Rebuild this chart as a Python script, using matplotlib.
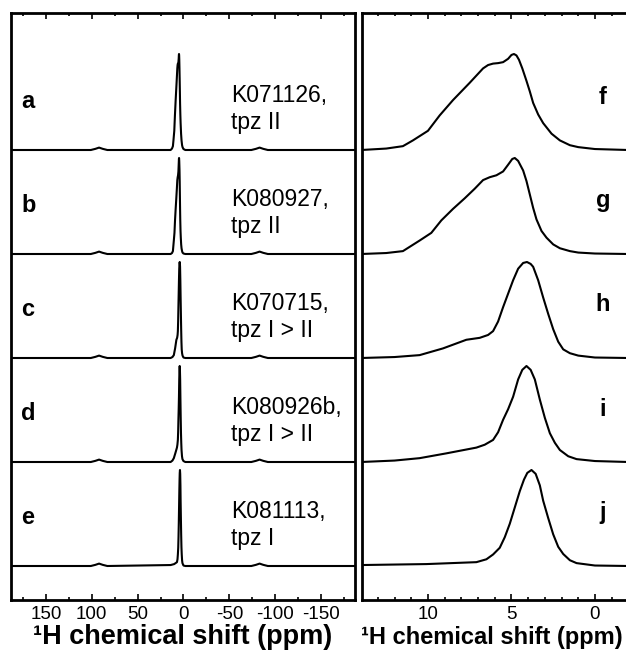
import matplotlib.pyplot as plt
from matplotlib.ticker import MultipleLocator
from matplotlib.transforms import blended_transform_factory

plt.rcParams["font.family"] = ["Liberation Sans", "DejaVu Sans"]
plt.rcParams["axes.unicode_minus"] = False

# panel letters and sample names (left panel: full range, right panel: zoom)
left_letters = ["a", "b", "c", "d", "e"]
right_letters = ["f", "g", "h", "i", "j"]
sample_names = ["K071126,\ntpz II", "K080927,\ntpz II", "K070715,\ntpz I > II",
                "K080926b,\ntpz I > II", "K081113,\ntpz I"]

# central region (ppm, normalised intensity)
ppm_1 = [14.0, 12.5, 11.5, 10.9, 10.0, 9.3, 8.5, 7.5, 6.7, 6.4, 6.1, 5.8, 5.5, 5.2, 5.0,
         4.85, 4.7, 4.55, 4.35, 4.1, 3.9, 3.7, 3.4, 3.1, 2.6, 2.1, 1.5, 1.0, 0.0, -1.0, -2.0]
int_1 = [0.0, 0.015, 0.04, 0.10, 0.20, 0.36, 0.52, 0.70, 0.85, 0.885, 0.90, 0.905, 0.915, 0.95, 0.99,
         1.0, 0.985, 0.94, 0.85, 0.72, 0.61, 0.49, 0.37, 0.28, 0.17, 0.10, 0.05, 0.03, 0.01, 0.005, 0.0]

ppm_2 = [14.0, 12.5, 11.5, 10.5, 9.8, 9.2, 8.5, 7.8, 7.2, 6.7, 6.3, 5.9, 5.5, 5.2, 4.95,
         4.8, 4.6, 4.3, 4.1, 3.9, 3.7, 3.5, 3.2, 2.9, 2.5, 2.1, 1.5, 1.0, 0.0, -2.0]
int_2 = [0.0, 0.01, 0.03, 0.14, 0.22, 0.35, 0.47, 0.58, 0.68, 0.77, 0.80, 0.82, 0.86, 0.93, 0.99,
         1.0, 0.97, 0.87, 0.76, 0.62, 0.48, 0.36, 0.24, 0.17, 0.10, 0.06, 0.03, 0.015, 0.005, 0.0]

ppm_3 = [14.0, 12.0, 10.5, 9.1, 7.7, 6.9, 6.4, 6.1, 5.8, 5.5, 5.2, 4.9, 4.6, 4.3, 4.07,
         3.85, 3.7, 3.4, 3.1, 2.8, 2.5, 2.2, 1.9, 1.5, 1.0, 0.0, -2.0]
int_3 = [0.0, 0.01, 0.03, 0.10, 0.19, 0.21, 0.24, 0.28, 0.38, 0.53, 0.67, 0.81, 0.93, 0.99, 1.0,
         0.98, 0.95, 0.81, 0.63, 0.46, 0.30, 0.17, 0.09, 0.05, 0.025, 0.005, 0.0]

ppm_4 = [14.0, 12.0, 10.5, 8.9, 7.7, 7.1, 6.6, 6.1, 5.8, 5.5, 5.2, 4.9, 4.6, 4.35, 4.1,
         3.85, 3.6, 3.3, 3.0, 2.7, 2.4, 2.1, 1.6, 1.1, 0.0, -2.0]
int_4 = [0.0, 0.015, 0.04, 0.09, 0.13, 0.15, 0.18, 0.23, 0.31, 0.44, 0.55, 0.68, 0.86, 0.96, 1.0,
         0.96, 0.86, 0.65, 0.46, 0.30, 0.20, 0.125, 0.06, 0.03, 0.01, 0.0]

ppm_5 = [14.0, 10.1, 7.1, 6.5, 6.1, 5.7, 5.4, 5.1, 4.8, 4.5, 4.25, 4.05, 3.8, 3.55, 3.3,
         3.1, 2.8, 2.5, 2.2, 1.9, 1.5, 1.1, 0.0, -2.0]
int_5 = [0.01, 0.02, 0.04, 0.07, 0.12, 0.19, 0.30, 0.44, 0.61, 0.78, 0.90, 0.97, 1.0, 0.96, 0.84,
         0.68, 0.50, 0.33, 0.20, 0.125, 0.06, 0.03, 0.005, 0.0]

# spinning sidebands seen in the full-range spectra
sideband_hi_ppm = [188.0, 101.0, 96.0, 92.0, 88.0, 83.0]
sideband_hi_int = [0.0, 0.0, 0.012, 0.025, 0.012, 0.0]
sideband_lo_ppm = [-74.0, -79.0, -83.0, -87.0, -92.0, -187.0]
sideband_lo_int = [0.0, 0.012, 0.025, 0.012, 0.0, 0.0]

spectra = [(ppm_1, int_1), (ppm_2, int_2), (ppm_3, int_3), (ppm_4, int_4), (ppm_5, int_5)]

spacing = 1.04
scale = 0.96
lw = 1.5

fig = plt.figure(figsize=(6.26, 6.55), dpi=100)
ax_l = fig.add_axes([11 / 626, 55 / 655, 344 / 626, 587 / 655])
ax_r = fig.add_axes([362 / 626, 55 / 655, 264 / 626, 587 / 655])
tr_l = blended_transform_factory(ax_l.transAxes, ax_l.transData)
tr_r = blended_transform_factory(ax_r.transAxes, ax_r.transData)

for i, (ppm, inten) in enumerate(spectra):
    off = (4 - i) * spacing
    full_ppm = sideband_hi_ppm + ppm + sideband_lo_ppm
    full_int = sideband_hi_int + inten + sideband_lo_int
    ax_l.plot(full_ppm, [off + scale * v for v in full_int], color="black", lw=lw)
    ax_r.plot(ppm, [off + scale * v for v in inten], color="black", lw=lw)

    ax_l.text(0.03, off + 0.48, left_letters[i], fontsize=17, fontweight="bold",
              ha="left", va="center", transform=tr_l)
    ax_l.text(-52, off + 0.41, sample_names[i], fontsize=16.5, ha="left", va="center",
              linespacing=1.2)
    ax_r.text(0.913, off + 0.53, right_letters[i], fontsize=17, fontweight="bold",
              ha="center", va="center", transform=tr_r)

ax_l.set_xlim(188, -187)
ax_r.set_xlim(13.95, -1.86)
for ax in (ax_l, ax_r):
    ax.set_ylim(-0.34, 5.53)
    ax.set_yticks([])
    for side in ("left", "right", "top", "bottom"):
        ax.spines[side].set_linewidth(2.0)
    ax.tick_params(axis="x", which="both", direction="in", top=True, bottom=True,
                   labelsize=13.5, pad=4)
    ax.tick_params(axis="x", which="major", length=4.5, width=1.2)
    ax.tick_params(axis="x", which="minor", length=2.5, width=1.2)

ax_l.set_xlabel("\u00b9H chemical shift (ppm)", fontsize=19.5, fontweight="bold", labelpad=1)
ax_r.set_xlabel("\u00b9H chemical shift (ppm)", fontsize=17, fontweight="bold", labelpad=3)
ax_r.xaxis.set_label_coords(0.49, -0.045)
ax_r.spines["right"].set_visible(False)

ax_l.xaxis.set_major_locator(MultipleLocator(50))
ax_l.xaxis.set_minor_locator(MultipleLocator(25))
ax_l.set_xticks([150, 100, 50, 0, -50, -100, -150])
ax_r.xaxis.set_major_locator(MultipleLocator(5))
ax_r.xaxis.set_minor_locator(MultipleLocator(1))

fig.savefig("out.png", dpi=100)
